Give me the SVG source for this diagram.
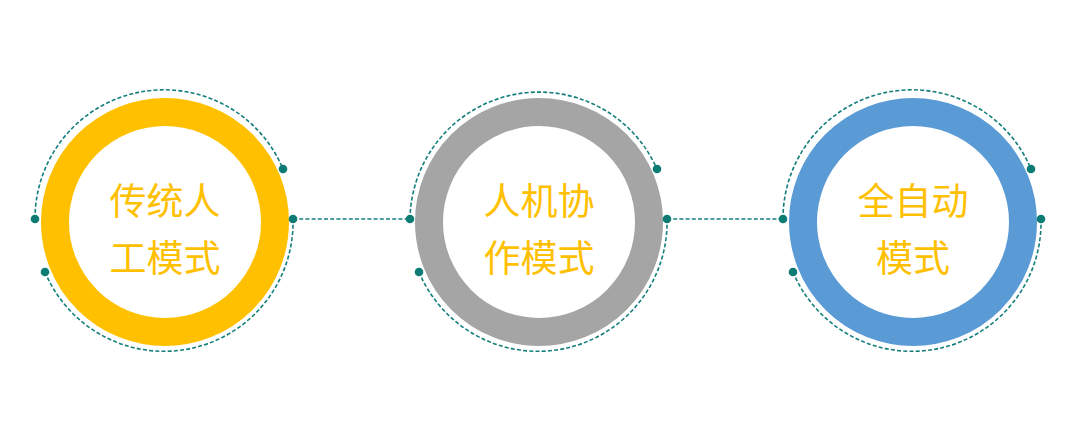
<svg xmlns="http://www.w3.org/2000/svg" width="1080" height="425" viewBox="0 0 1080 425">
<style>
.ring{fill:none;stroke-width:28}
.dash{fill:none;stroke:#137F7C;stroke-width:1.6;stroke-dasharray:4 2.2}
.dot{fill:#0B7B74}
.lbl{font-family:"Noto Sans CJK SC","Noto Sans",sans-serif;font-size:37px;fill:#FFC000;text-anchor:middle}
</style>
<rect width="1080" height="425" fill="#ffffff"/>
<g id="connectors">
<line class="dash" x1="293" y1="219" x2="410" y2="219"/>
<line class="dash" x1="667" y1="219" x2="783" y2="219"/>
</g>
<g id="node1">
<circle class="ring" cx="165" cy="222" r="110" stroke="#FFC000"/>
<path class="dash" d="M35,219 A129,129 0 0 1 283,169"/>
<path class="dash" d="M45,272 A129,129 0 0 0 293,219"/>
<circle class="dot" cx="35" cy="219" r="4.3"/>
<circle class="dot" cx="293" cy="219" r="4.3"/>
<circle class="dot" cx="283" cy="169" r="4.3"/>
<circle class="dot" cx="45" cy="272" r="4.3"/>
<text class="lbl" x="165" y="215">传统人</text>
<text class="lbl" x="165" y="272">工模式</text>
</g>
<g id="node2">
<circle class="ring" cx="539" cy="222" r="110" stroke="#A5A5A5"/>
<path class="dash" d="M410,219 A129,129 0 0 1 657,169"/>
<path class="dash" d="M419,272 A129,129 0 0 0 667,219"/>
<circle class="dot" cx="410" cy="219" r="4.3"/>
<circle class="dot" cx="667" cy="219" r="4.3"/>
<circle class="dot" cx="657" cy="169" r="4.3"/>
<circle class="dot" cx="419" cy="272" r="4.3"/>
<text class="lbl" x="539" y="215">人机协</text>
<text class="lbl" x="539" y="272">作模式</text>
</g>
<g id="node3">
<circle class="ring" cx="913" cy="222" r="110" stroke="#5B9BD5"/>
<path class="dash" d="M783,219 A129,129 0 0 1 1031,169"/>
<path class="dash" d="M793,272 A129,129 0 0 0 1041,219"/>
<circle class="dot" cx="783" cy="219" r="4.3"/>
<circle class="dot" cx="1041" cy="219" r="4.3"/>
<circle class="dot" cx="1031" cy="169" r="4.3"/>
<circle class="dot" cx="793" cy="272" r="4.3"/>
<text class="lbl" x="913" y="215">全自动</text>
<text class="lbl" x="913" y="272">模式</text>
</g>
</svg>
